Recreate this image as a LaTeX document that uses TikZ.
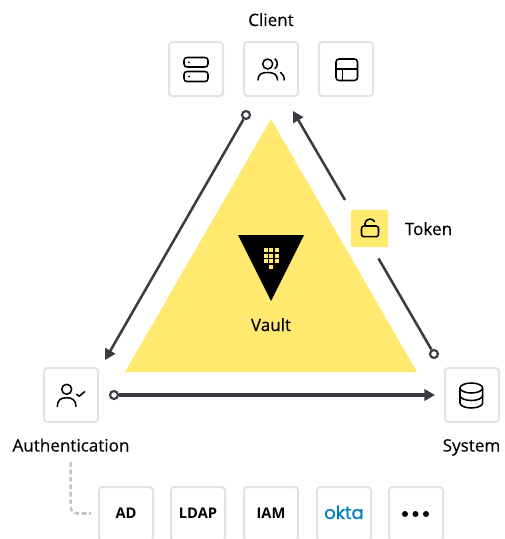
\documentclass[tikz,border=0pt]{standalone}
\usepackage{fontspec}
\setmainfont{Open Sans}
\newfontfamily\medfont[FakeBold=0.25]{Open Sans}
\newfontfamily\logofont[FakeBold=0.6]{Poppins}
\usetikzlibrary{arrows.meta}
\definecolor{vy}{HTML}{FFE96F}
\definecolor{bd}{HTML}{E2E2E2}
\definecolor{ar}{HTML}{3A3B43}
\definecolor{ok}{HTML}{007DC1}
\definecolor{dsh}{HTML}{C4C4C4}
\tikzset{
  x=0.75pt,y=-0.75pt,
  tile/.style={draw=bd,line width=1.5pt,rounded corners=2.5pt,fill=white,minimum size=40.5pt,inner sep=0pt},
  lbl/.style={font=\medfont\fontsize{12.8}{14}\selectfont,text=black,inner sep=0pt,anchor=base},
  tag/.style={font=\fontsize{11}{12}\selectfont\bfseries,text=black,inner sep=0pt,anchor=base},
  icon/.style={line width=1.15pt,draw=black,line cap=round,line join=round},
  flow/.style={draw=ar,line width=1.9pt},
  tipped/.style={flow,-{Triangle[length=8pt,width=8.5pt]}},
  ringnode/.style={circle,draw=ar,fill=white,line width=1.6pt,minimum size=6pt,inner sep=0pt},
  elbow/.style={draw=dsh,line width=1.9pt,dash pattern=on 3.6pt off 2pt}
}
\begin{document}
\begin{tikzpicture}
\useasboundingbox (0,0) rectangle (504,539);
% Vault triangle
\fill[vy] (271,119) -- (417,372) -- (125,372) -- cycle;
\fill[black] (238,235) -- (304,235) -- (271,301) -- cycle;
\foreach \px in {265.5,271,276.5}\foreach \py in {250,255.5,261}{\fill[vy] (\px-2,\py-2) rectangle (\px+2,\py+2);}
\fill[vy] (269,265) rectangle (273,269);
\node[lbl] (vault) at (271,331) {Vault};
% tiles
\node[tile] (srv) at (196,69) {};
\node[tile] (usr) at (271,69) {};
\node[tile] (lay) at (346,69) {};
\node[tile] (auth) at (71,395) {};
\node[tile] (sys) at (472,395) {};
\node[tile] (ad) at (126,514) {};
\node[tile] (ldap) at (198,514) {};
\node[tile] (iam) at (271,514) {};
\node[tile] (okta) at (344,514) {};
\node[tile] (more) at (416,514) {};
\node[tag] at (126,518.5) {AD};
\node[tag] at (198,518.5) {LDAP};
\node[tag] at (271,518.5) {IAM};
\node[font=\logofont\fontsize{13.5}{14}\selectfont,text=ok,inner sep=0pt,anchor=base] at (344,519) {okta};
\foreach \px in {405,415.5,426}{\fill[black] (\px,514) circle[radius=3];}
% labels
\node[lbl] (client) at (271,26) {Client};
\node[lbl] (authl) at (71,451.5) {Authentication};
\node[lbl] (sysl) at (471.5,451.5) {System};
\node[lbl] (tokl) at (428.5,235) {Token};
% token
\node[fill=vy,rounded corners=1.5pt,minimum size=28pt,inner sep=0pt] (tok) at (369.5,228.5) {};
\draw[icon,rounded corners=1.8pt] (361.5,226) rectangle (378.5,236.7);
\draw[icon] (365,226) -- (365,223.5) arc[start angle=180,end angle=335,x radius=5,y radius=4.5];
% icons
\draw[icon,rounded corners=2.2pt] (184,57.5) rectangle (208,67);
\draw[icon,rounded corners=2.2pt] (184,71.5) rectangle (208,81.5);
\fill (189,62.3) circle[radius=1]; \fill (189,76.5) circle[radius=1];
\draw[icon] (267.7,64) circle[radius=5];
\draw[icon] (258,80) .. controls (258,74) and (262,72.5) .. (267.7,72.5) .. controls (273,72.5) and (277.5,74) .. (277.5,80);
\draw[icon] (275,59) .. controls (278,60) and (278,67) .. (275,68.5);
\draw[icon] (280.5,72.5) .. controls (283,74) and (284.2,76.5) .. (284.2,80);
\draw[icon,rounded corners=2.2pt] (336,59) rectangle (357.5,80.5);
\draw[icon] (336,69) -- (357.5,69) (342.5,69) -- (342.5,80.5);
\draw[icon] (66.7,389.3) circle[radius=5];
\draw[icon] (57.3,406.5) .. controls (57.3,400) and (61,397.7) .. (66.7,397.7) .. controls (72,397.7) and (76,400) .. (76,406.5);
\draw[icon] (76.7,394.3) -- (79.3,396.2) -- (84.7,391.7);
\draw[icon] (471.3,388) ellipse[x radius=11.3,y radius=5];
\draw[icon] (460,388) -- (460,403) arc[start angle=180,end angle=0,x radius=11.3,y radius=5] -- (482.6,388);
\draw[icon] (460,395.5) arc[start angle=180,end angle=0,x radius=11.3,y radius=5];
% connectors
\node[ringnode] (rtop) at (246,115) {};
\node[ringnode] (rleft) at (114,395) {};
\node[ringnode] (rright) at (434,354) {};
\coordinate (atip) at (105,360);
\coordinate (stip) at (435,395);
\coordinate (ctip) at (293,111);
\coordinate (tokup) at (345,200);
\coordinate (tokdn) at (378.5,258.5);
\draw[tipped] (rtop) -- (atip);
\draw[tipped,line width=2.3pt] (rleft) -- (stip);
\draw[tipped] (tokup) -- (ctip);
\draw[flow] (tokdn) -- (rright);
\coordinate (dstart) at (70.7,462);
\coordinate (dend) at (91,513.5);
\draw[elbow] (dstart) -- (70.7,506) .. controls (70.7,511) and (73,513.5) .. (78,513.5) -- (dend);
\end{tikzpicture}
\end{document}
